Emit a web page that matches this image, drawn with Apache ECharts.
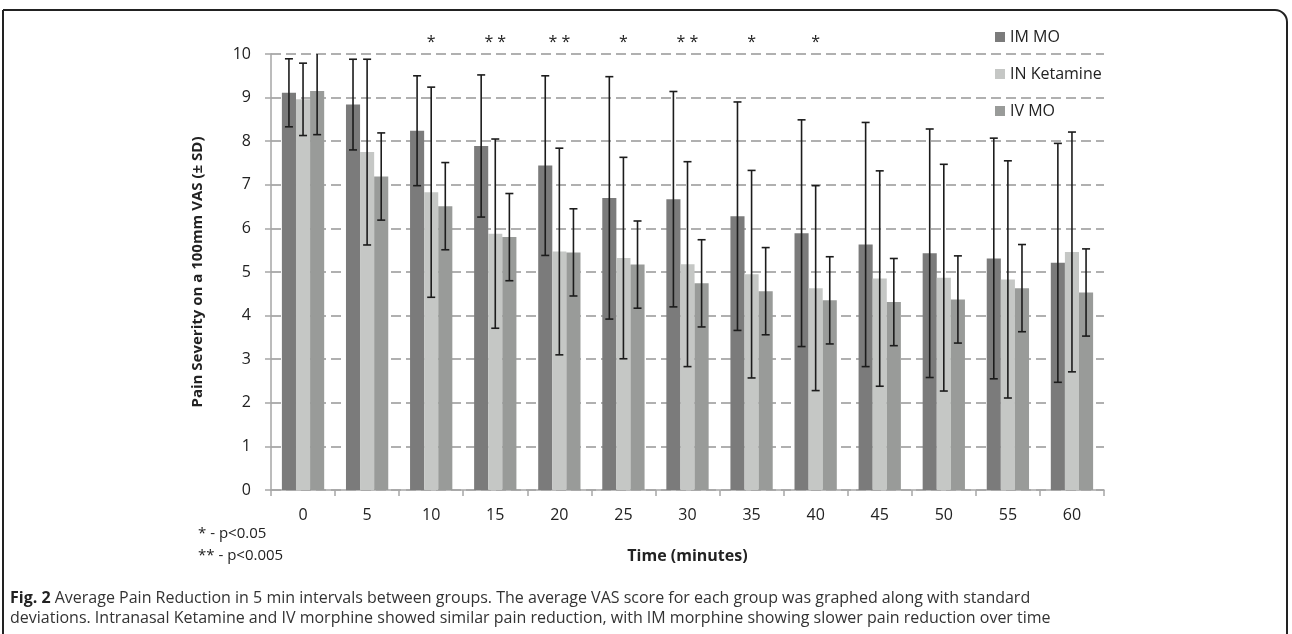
<!DOCTYPE html>
<html>
<head>
<meta charset="utf-8">
<script src="https://cdn.jsdelivr.net/npm/echarts@6/dist/echarts.min.js"></script>
<style>
  html, body { margin: 0; padding: 0; background: #fff; }
  #chart { width: 1292px; height: 634px; }
</style>
</head>
<body>
<div id="chart"></div>
<script>
// ---- Data ----
const categories = ['0', '5', '10', '15', '20', '25', '30', '35', '40', '45', '50', '55', '60'];
const seriesNames = ['IM MO', 'IN Ketamine', 'IV MO'];
const imMO    = [9.11, 8.84, 8.24, 7.89, 7.44, 6.70, 6.67, 6.28, 5.89, 5.63, 5.43, 5.31, 5.21];
const imMOsd  = [0.78, 1.04, 1.26, 1.63, 2.06, 2.78, 2.47, 2.62, 2.60, 2.80, 2.85, 2.76, 2.74];
const inKet   = [8.96, 7.75, 6.83, 5.88, 5.47, 5.32, 5.18, 4.95, 4.63, 4.85, 4.87, 4.83, 5.46];
const inKetsd = [0.83, 2.13, 2.41, 2.17, 2.37, 2.31, 2.35, 2.38, 2.35, 2.47, 2.60, 2.72, 2.75];
const ivMO    = [9.15, 7.19, 6.51, 5.80, 5.45, 5.17, 4.74, 4.56, 4.35, 4.31, 4.37, 4.63, 4.53];
const ivMOsd  = [1.00, 1.00, 1.00, 1.00, 1.00, 1.00, 1.00, 1.00, 1.00, 1.00, 1.00, 1.00, 1.00];
const significance = ['', '', '*', '**', '**', '*', '**', '*', '*', '', '', '', ''];
const yTicks = { min: 0, max: 10, interval: 1 };

const colors = ['#7b7b7b', '#c5c7c5', '#999b99'];
const FONT = '"Open Sans", "Noto Sans", sans-serif';
const CAT_GAP = 0.34;

const means = [imMO, inKet, ivMO];
const sds = [imMOsd, inKetsd, ivMOsd];

function errRenderer(groupIdx) {
  return function (params, api) {
    const xi = api.value(0);
    const lo = api.value(1);
    const hi = api.value(2);
    const band = api.size([1, 0])[0];
    const bw = band * (1 - CAT_GAP) / 3;
    const cx = api.coord([xi, 0])[0] + (groupIdx - 1) * bw;
    const clipped = hi > yTicks.max;
    const yTop = api.coord([xi, Math.min(hi, yTicks.max)])[1];
    const yBot = api.coord([xi, Math.max(lo, yTicks.min)])[1];
    const cap = 4;
    const style = { stroke: '#1c1c1c', lineWidth: 1.6 };
    const children = [
      { type: 'line', shape: { x1: cx, y1: yTop, x2: cx, y2: yBot }, style: style },
      { type: 'line', shape: { x1: cx - cap, y1: yBot, x2: cx + cap, y2: yBot }, style: style }
    ];
    if (!clipped) {
      children.push({ type: 'line', shape: { x1: cx - cap, y1: yTop, x2: cx + cap, y2: yTop }, style: style });
    }
    return { type: 'group', children: children };
  };
}

const barSeries = seriesNames.map((name, g) => ({
  name: name,
  type: 'bar',
  data: means[g],
  barGap: '0%',
  barCategoryGap: (CAT_GAP * 100) + '%',
  itemStyle: { color: colors[g] },
  emphasis: { disabled: true },
  z: 2
}));

const errSeries = seriesNames.map((name, g) => ({
  name: name + ' SD',
  type: 'custom',
  renderItem: errRenderer(g),
  data: means[g].map((m, i) => [i, +(m - sds[g][i]).toFixed(2), +(m + sds[g][i]).toFixed(2)]),
  clip: false,
  z: 5,
  silent: true
}));

const sigSeries = {
  name: 'significance',
  type: 'custom',
  clip: false,
  silent: true,
  z: 6,
  data: significance.map((s, i) => [i, yTicks.max, s]),
  renderItem: function (params, api) {
    const i = api.value(0);
    const label = significance[i];
    if (!label) return null;
    const pt = api.coord([i, yTicks.max]);
    return {
      type: 'text',
      style: {
        text: label.split('').join(' '),
        x: pt[0], y: pt[1] - 12,
        align: 'center', verticalAlign: 'middle',
        fill: '#222', font: '16px ' + FONT
      }
    };
  }
};

const chart = echarts.init(document.getElementById('chart'), null, { renderer: 'canvas' });
chart.setOption({
  backgroundColor: '#ffffff',
  animation: false,
  textStyle: { fontFamily: FONT },
  grid: { left: 271, right: 188, top: 54, bottom: 144, containLabel: false },
  legend: {
    data: seriesNames,
    orient: 'vertical',
    left: 990,
    top: 24,
    itemWidth: 10,
    itemHeight: 10,
    itemGap: 21,
    icon: 'rect',
    selectedMode: false,
    textStyle: { fontSize: 16, color: '#222', fontFamily: FONT, lineHeight: 16 }
  },
  xAxis: {
    type: 'category',
    data: categories,
    name: 'Time (minutes)',
    nameLocation: 'middle',
    nameGap: 58,
    nameTextStyle: { fontSize: 16, fontWeight: 'bold', color: '#222', fontFamily: FONT },
    axisLine: { lineStyle: { color: '#a6a6a6', width: 1.5 } },
    axisTick: { show: true, length: 6, lineStyle: { color: '#a6a6a6', width: 1.5 } },
    axisLabel: { fontSize: 16, color: '#222', margin: 17, fontFamily: FONT },
    splitLine: { show: false }
  },
  yAxis: {
    type: 'value',
    min: yTicks.min,
    max: yTicks.max,
    interval: yTicks.interval,
    name: 'Pain Severity on a 100mm VAS (± SD)',
    nameLocation: 'middle',
    nameGap: 66,
    nameTextStyle: { fontSize: 15, fontWeight: 'bold', color: '#222', fontFamily: FONT },
    axisLine: { show: true, lineStyle: { color: '#a6a6a6', width: 1.5 } },
    axisTick: { show: true, length: 6, lineStyle: { color: '#a6a6a6', width: 1.5 } },
    axisLabel: { fontSize: 16, color: '#222', margin: 20, fontFamily: FONT },
    splitLine: { show: true, lineStyle: { color: '#b0b0b0', width: 2, type: [10, 5] } }
  },
  series: [...barSeries, ...errSeries, sigSeries],
  graphic: [
    {
      type: 'rect',
      shape: { x: 3, y: 10, width: 1284, height: 640, r: [0, 12, 0, 0] },
      style: { fill: 'none', stroke: '#222', lineWidth: 2 },
      silent: true
    },
    {
      type: 'text', left: 198, top: 526,
      style: { text: '* - p<0.05', font: '15px ' + FONT, fill: '#222' }
    },
    {
      type: 'text', left: 198, top: 548,
      style: { text: '** - p<0.005', font: '15px ' + FONT, fill: '#222' }
    },
    {
      type: 'text', left: 10, top: 588,
      style: {
        text: '{b|Fig. 2} Average Pain Reduction in 5 min intervals between groups. The average VAS score for each group was graphed along with standard\ndeviations. Intranasal Ketamine and IV morphine showed similar pain reduction, with IM morphine showing slower pain reduction over time',
        font: '16px ' + FONT,
        fill: '#333',
        lineHeight: 20,
        rich: {
          b: { font: 'bold 16px ' + FONT, fill: '#222' }
        }
      }
    }
  ]
});
</script>
</body>
</html>
